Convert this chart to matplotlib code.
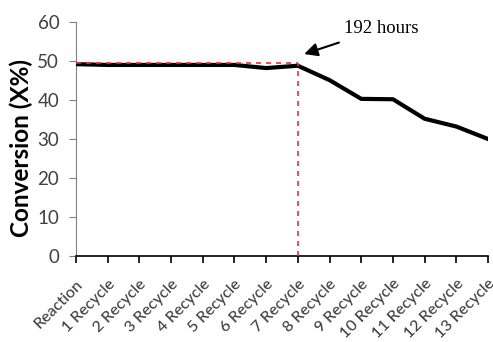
import matplotlib.pyplot as plt

plt.rcParams["font.family"] = ["Lato", "DejaVu Sans"]

# catalyst recycle runs and measured conversion
runs = ["Reaction"] + ["%d Recycle" % i for i in range(1, 14)]
conversion = [49.2, 49.0, 49.0, 49.0, 49.0, 49.0, 48.2, 48.8,
              45.1, 40.3, 40.2, 35.2, 33.2, 30.0]

# level held up to the 192 h run (7 Recycle)
stable_level = 49.6
stable_idx = 7

fig = plt.figure(figsize=(4.93, 3.42), dpi=100)
ax = fig.add_axes([0.154, 0.2515, 0.836, 0.684])

x = list(range(len(runs)))
ax.plot(x, conversion, color="black", lw=3, solid_joinstyle="miter", zorder=3)

# dashed guide lines
ax.plot([0, stable_idx], [stable_level, stable_level], color="#e8313a",
        lw=1.2, ls=(0, (3, 3)), zorder=4)
ax.plot([stable_idx, stable_idx], [0, stable_level], color="#e8313a",
        lw=1.2, ls=(0, (3, 3)), zorder=4)

ax.annotate("192 hours", xy=(stable_idx + 0.2, 51.8),
            xytext=(stable_idx + 1.45, 58.3), fontsize=13.5,
            family="Liberation Serif", va="center", ha="left",
            arrowprops=dict(arrowstyle="-|>", color="black", lw=1.5,
                            mutation_scale=20, shrinkA=6, shrinkB=0))

ax.set_xlim(0, len(runs) - 1)
ax.set_ylim(0, 60)
ax.set_yticks(range(0, 61, 10))
ax.set_xticks(x)
ax.set_xticklabels(runs, rotation=45, ha="right", rotation_mode="anchor",
                   fontsize=11.5, color="#404040", fontweight="medium")
ax.tick_params(axis="y", labelsize=13.5, labelcolor="#404040", color="#808080",
               length=5, pad=7)
ax.tick_params(axis="x", color="black", length=5, width=1.2, pad=10)

ax.spines["top"].set_visible(False)
ax.spines["right"].set_visible(False)
ax.spines["left"].set_color("#808080")
ax.spines["bottom"].set_linewidth(1.2)

ax.set_ylabel("Conversion (X%)", fontsize=17.5, fontweight="bold")
ax.yaxis.set_label_coords(-0.104, 0.46)

fig.savefig("out.png", dpi=100)
